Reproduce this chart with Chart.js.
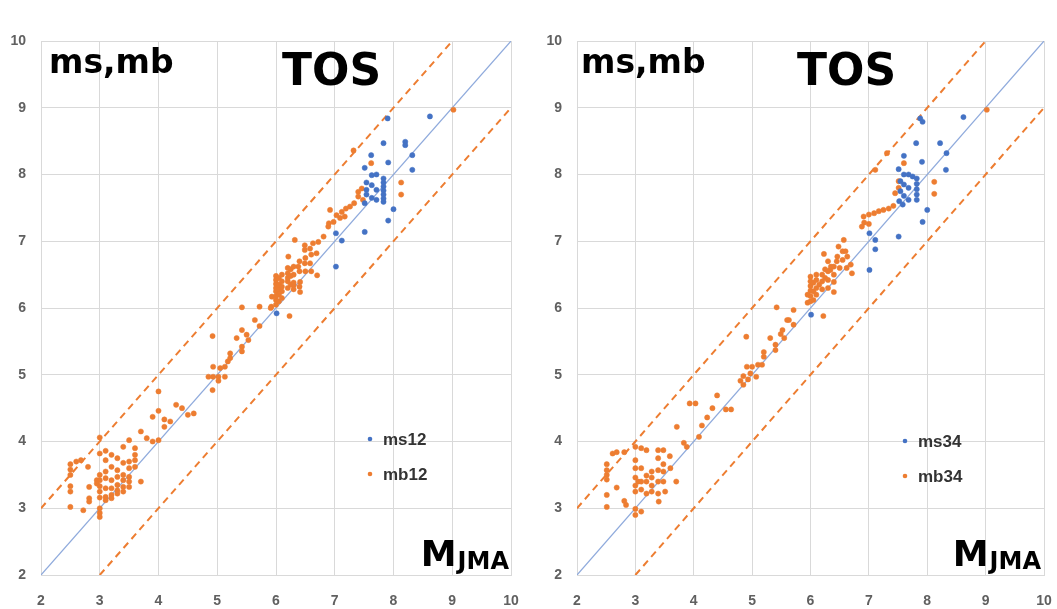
<!DOCTYPE html>
<html>
<head>
<meta charset="utf-8">
<script src="https://cdn.jsdelivr.net/npm/chart.js@4/dist/chart.umd.min.js"></script>
<style>
  html, body { margin: 0; padding: 0; background: #fff; }
  #wrap { position: relative; width: 1057px; height: 609px; overflow: hidden; }
  .panel { position: absolute; top: 0; height: 609px; }
</style>
</head>
<body>
<div id="wrap">
  <div class="panel" style="left:0;width:527px"><canvas id="left" width="527" height="609"></canvas></div>
  <div class="panel" style="left:527px;width:530px"><canvas id="right" width="530" height="609"></canvas></div>
</div>
<script>
// shared axis ticks (both axes 2..10)
const axisTicks = [2, 3, 4, 5, 6, 7, 8, 9, 10];

// reference lines: 1:1 and +/-1 bands
const diagLine = [[2, 2], [10, 10]];
const upperBand = [[2, 3], [9, 10]];
const lowerBand = [[3, 2], [10, 9]];

// left panel: ms12 / mb12 vs MJMA
const ms12 = [
  [8.62, 8.87], [7.9, 8.84], [7.83, 8.47], [8.2, 8.49], [8.2, 8.44], [7.62, 8.29], [8.32, 8.29],
  [7.91, 8.18], [8.32, 8.07], [7.51, 8.1], [7.63, 7.99], [7.71, 8.0], [7.54, 7.88], [7.63, 7.84],
  [7.54, 7.77], [7.71, 7.77], [7.54, 7.7], [7.63, 7.65], [7.71, 7.62], [7.51, 7.57],
  [7.83, 7.94], [7.83, 7.88], [7.83, 7.82], [7.83, 7.76], [7.83, 7.7], [7.83, 7.64], [7.83, 7.59],
  [8.0, 7.48], [7.91, 7.31], [7.51, 7.14], [7.02, 7.12], [7.12, 7.01], [7.02, 6.62], [6.01, 5.92]
];
const mb12 = [
  // around 7-9
  [9.02, 8.97], [7.62, 8.17], [7.32, 8.36], [8.13, 7.88], [8.13, 7.7], [7.4, 7.74], [7.46, 7.79],
  [7.4, 7.67], [7.33, 7.57], [7.26, 7.52], [7.19, 7.49], [7.12, 7.44], [7.03, 7.39], [6.92, 7.47],
  [6.98, 7.29], [6.89, 7.22], [6.9, 7.27], [7.09, 7.35], [7.17, 7.37], [7.48, 7.62],
  // around 6-7
  [6.21, 6.77], [6.32, 7.02], [6.49, 6.94], [6.49, 6.87], [6.58, 6.89], [6.63, 6.97], [6.72, 6.99],
  [6.81, 7.07], [6.69, 6.82], [6.58, 6.67], [6.7, 6.49], [6.6, 6.55], [6.49, 6.67], [6.38, 6.62],
  [6.23, 5.88], [5.93, 6.17], [5.92, 6.02], [6.41, 6.39], [6.41, 6.24], [6.3, 6.34],
  [6.0, 6.05], [6.0, 6.12], [6.0, 6.18], [6.0, 6.25], [6.0, 6.3], [6.0, 6.36], [6.0, 6.42], [6.0, 6.48],
  [6.05, 6.1], [6.05, 6.2], [6.05, 6.28], [6.05, 6.35], [6.05, 6.45],
  [6.1, 6.15], [6.1, 6.25], [6.1, 6.32], [6.1, 6.4], [6.1, 6.5],
  [6.2, 6.3], [6.2, 6.4], [6.2, 6.45], [6.2, 6.52], [6.2, 6.6],
  [6.25, 6.35], [6.25, 6.48], [6.25, 6.58], [6.3, 6.28], [6.3, 6.38], [6.3, 6.5], [6.3, 6.62],
  [6.4, 6.32], [6.4, 6.55], [6.4, 6.7], [6.5, 6.55], [6.5, 6.75], [6.6, 6.8],
  // around 5-6
  [4.92, 5.58], [5.42, 6.01], [5.72, 6.02], [5.91, 6.0], [5.64, 5.82], [5.72, 5.73], [5.42, 5.67],
  [5.33, 5.55], [5.5, 5.6], [5.53, 5.52], [5.42, 5.42], [5.42, 5.35], [5.22, 5.32], [5.22, 5.25],
  [5.13, 5.12], [5.05, 5.1], [4.93, 5.12], [4.85, 4.97], [4.93, 4.97], [5.02, 4.97], [5.13, 4.97],
  [5.02, 4.91], [4.92, 4.77], [5.18, 5.2],
  // around 2.5-4.7
  [2.5, 3.66], [2.5, 3.58], [2.5, 3.5], [2.5, 3.33], [2.5, 3.25], [2.5, 3.02], [2.6, 3.7], [2.68, 3.72],
  [2.72, 2.97], [2.8, 3.62], [2.82, 3.15], [2.82, 3.1], [2.82, 3.32], [2.95, 3.42], [2.95, 3.37],
  [3.0, 4.06], [3.0, 3.82], [3.0, 3.5], [3.0, 3.42], [3.0, 3.33], [3.0, 3.25], [3.0, 3.16], [3.0, 3.0],
  [3.0, 2.87], [3.0, 2.93], [3.1, 3.86], [3.1, 3.72], [3.1, 3.55], [3.1, 3.45], [3.1, 3.3], [3.1, 3.17],
  [3.1, 3.12], [3.2, 3.8], [3.2, 3.62], [3.2, 3.42], [3.2, 3.3], [3.2, 3.2], [3.2, 3.15],
  [3.3, 3.75], [3.3, 3.57], [3.3, 3.47], [3.3, 3.35], [3.3, 3.27], [3.3, 3.22],
  [3.4, 3.92], [3.4, 3.68], [3.4, 3.5], [3.4, 3.42], [3.4, 3.32], [3.4, 3.25],
  [3.5, 4.02], [3.5, 3.7], [3.5, 3.6], [3.5, 3.47], [3.5, 3.4], [3.5, 3.32],
  [3.6, 3.9], [3.6, 3.8], [3.6, 3.72], [3.6, 3.62], [3.7, 3.4],
  [3.7, 4.15], [3.8, 4.05], [3.9, 4.0], [3.9, 4.37], [4.0, 4.75], [4.0, 4.46], [4.0, 4.02],
  [4.1, 4.33], [4.1, 4.22], [4.2, 4.3], [4.3, 4.55], [4.4, 4.5], [4.5, 4.4], [4.6, 4.42]
];

// right panel: ms34 / mb34 vs MJMA
const ms34 = [
  [8.62, 8.86], [7.88, 8.84], [7.92, 8.79], [7.81, 8.47], [8.22, 8.47], [7.6, 8.28], [8.33, 8.32],
  [7.91, 8.19], [8.32, 8.07], [7.51, 8.08], [7.6, 8.0], [7.68, 8.0], [7.75, 7.97], [7.54, 7.9],
  [7.6, 7.85], [7.68, 7.8], [7.54, 7.75], [7.6, 7.68], [7.68, 7.62], [7.52, 7.6], [7.58, 7.55],
  [7.82, 7.94], [7.82, 7.86], [7.82, 7.78], [7.82, 7.7], [7.82, 7.62],
  [8.0, 7.47], [7.92, 7.29], [7.51, 7.07], [7.01, 7.12], [7.11, 7.02], [7.11, 6.88], [7.01, 6.57],
  [6.01, 5.9]
];
const mb34 = [
  // around 7-9
  [9.02, 8.97], [8.12, 7.89], [8.12, 7.71], [7.6, 8.17], [7.31, 8.32], [7.11, 8.07], [7.51, 7.8],
  [7.51, 7.9], [7.45, 7.72], [7.42, 7.53], [7.34, 7.49], [7.25, 7.47], [7.17, 7.45], [7.09, 7.42],
  [7.0, 7.4], [6.91, 7.37], [6.88, 7.22], [6.92, 7.28], [7.0, 7.26],
  // around 6-7
  [6.23, 6.81], [6.48, 6.92], [6.46, 6.77], [6.55, 6.85], [6.63, 6.77], [6.69, 6.65], [6.71, 6.52],
  [6.34, 6.57], [6.4, 6.39], [6.4, 6.24], [6.57, 7.02], [6.22, 5.88], [5.71, 5.97], [5.63, 5.82],
  [6.3, 6.7], [6.62, 6.6],
  [5.95, 6.08], [5.95, 6.2], [6.0, 6.1], [6.0, 6.18], [6.0, 6.26], [6.0, 6.33], [6.0, 6.4], [6.0, 6.47],
  [6.05, 6.12], [6.05, 6.25], [6.05, 6.38], [6.1, 6.2], [6.1, 6.3], [6.1, 6.42], [6.1, 6.5],
  [6.15, 6.35], [6.2, 6.28], [6.2, 6.4], [6.2, 6.5], [6.25, 6.45], [6.25, 6.58],
  [6.3, 6.3], [6.3, 6.42], [6.3, 6.55], [6.35, 6.62], [6.4, 6.5], [6.4, 6.62], [6.45, 6.7],
  [6.5, 6.6], [6.55, 6.72], [6.6, 6.85],
  // around 4.4-6
  [4.4, 4.69], [4.9, 5.57], [4.8, 4.91], [4.85, 4.85], [4.85, 4.98], [4.97, 5.02], [5.07, 4.97],
  [4.93, 4.93], [4.91, 5.12], [5.0, 5.12], [5.1, 5.15], [5.17, 5.15], [5.2, 5.27], [5.2, 5.34],
  [5.31, 5.55], [5.4, 5.37], [5.4, 5.45], [5.42, 6.01], [5.49, 5.61], [5.55, 5.55], [5.52, 5.67],
  [5.6, 5.82], [5.71, 5.75],
  // around 3.7-4.7
  [3.93, 4.57], [4.03, 4.57], [3.71, 4.22], [3.83, 3.98], [3.88, 3.92], [4.09, 4.07], [4.14, 4.24],
  [4.23, 4.36], [4.32, 4.5], [4.55, 4.48], [4.64, 4.48],
  // around 2.5-3.7
  [2.51, 3.66], [2.51, 3.57], [2.51, 3.43], [2.51, 3.2], [2.51, 3.02], [2.51, 3.5], [2.61, 3.82],
  [2.68, 3.84], [2.81, 3.84], [2.68, 3.31], [2.81, 3.11], [2.84, 3.05],
  [3.0, 3.92], [3.0, 3.72], [3.0, 3.6], [3.0, 3.46], [3.0, 3.34], [3.0, 3.25], [3.0, 2.99], [3.0, 2.9],
  [3.05, 3.4], [3.1, 3.9], [3.1, 3.6], [3.1, 3.4], [3.1, 3.28], [3.1, 2.95],
  [3.19, 3.87], [3.19, 3.49], [3.19, 3.4], [3.19, 3.22], [3.28, 3.46], [3.28, 3.34], [3.28, 3.25],
  [3.28, 3.55], [3.39, 3.87], [3.39, 3.75], [3.39, 3.57], [3.39, 3.4], [3.39, 3.22],
  [3.48, 3.87], [3.48, 3.66], [3.48, 3.55], [3.48, 3.4], [3.51, 3.25], [3.59, 3.78], [3.7, 3.4],
  [3.6, 3.6], [3.4, 3.1]
];

const BLUE = "#4472C4";
const ORANGE = "#ED7D31";
const GRID = "#D9D9D9";
const TICK_FONT = { family: "Liberation Sans", size: 14, weight: "bold" };

const toXY = (arr) => arr.map(([x, y]) => ({ x, y }));

// draws the big panel labels and the small legend on the canvas
const panelText = {
  id: "panelText",
  afterDraw(chart, args, o) {
    const ctx = chart.ctx;
    ctx.save();
    ctx.fillStyle = "#000";
    ctx.textBaseline = "alphabetic";
    ctx.textAlign = "left";
    ctx.font = 'bold 33px "DejaVu Sans"';
    ctx.fillText("ms,mb", o.nameX, 73);
    ctx.font = 'bold 44px "DejaVu Sans"';
    ctx.fillText("TOS", o.tosX, 85);

    // M with JMA subscript, right aligned
    ctx.textAlign = "right";
    ctx.font = 'bold 24px "DejaVu Sans"';
    ctx.fillText("JMA", o.mRight, 569);
    const subW = ctx.measureText("JMA").width;
    ctx.font = 'bold 36px "DejaVu Sans"';
    ctx.fillText("M", o.mRight - subW - 1, 566);

    // legend
    const items = [[o.labels[0], BLUE, o.legY], [o.labels[1], ORANGE, o.legY + 35]];
    ctx.textAlign = "left";
    ctx.textBaseline = "middle";
    ctx.font = 'bold 17px "Liberation Sans"';
    items.forEach(([txt, col, y]) => {
      ctx.fillStyle = col;
      ctx.beginPath();
      ctx.arc(o.legX, y, 2.3, 0, Math.PI * 2);
      ctx.fill();
      ctx.fillStyle = "#333";
      ctx.fillText(txt, o.legX + 13, y + 1);
    });
    ctx.restore();
  }
};

const makeScale = (fit, pad) => ({
  type: "linear",
  min: 2,
  max: 10,
  afterBuildTicks: (s) => { s.ticks = axisTicks.map(v => ({ value: v })); },
  afterFit: fit,
  grid: { color: GRID, lineWidth: 1, drawTicks: false },
  border: { display: true, color: GRID },
  ticks: { font: TICK_FONT, color: "#606060", padding: pad }
});

function buildChart(id, ms, mb, opts) {
  return new Chart(document.getElementById(id), {
    type: "scatter",
    data: {
      datasets: [
        { label: opts.labels[0], data: toXY(ms), backgroundColor: BLUE, borderColor: BLUE,
          borderWidth: 0.5, pointRadius: 2.6, order: 1 },
        { label: opts.labels[1], data: toXY(mb), backgroundColor: ORANGE, borderColor: ORANGE,
          borderWidth: 0.5, pointRadius: 2.6, order: 2 },
        { data: toXY(diagLine), showLine: true, borderColor: "#8FAADC", borderWidth: 1.2,
          pointRadius: 0, order: 3 },
        { data: toXY(upperBand), showLine: true, borderColor: ORANGE, borderWidth: 2,
          borderDash: [7, 5], pointRadius: 0, order: 3 },
        { data: toXY(lowerBand), showLine: true, borderColor: ORANGE, borderWidth: 2,
          borderDash: [7, 5], pointRadius: 0, order: 3 }
      ]
    },
    options: {
      responsive: false,
      animation: false,
      layout: { padding: { top: 41, right: opts.padRight, left: 0, bottom: 0 } },
      plugins: { legend: { display: false }, tooltip: { enabled: false }, panelText: opts },
      scales: {
        // x labels sit low; drop the edge padding the label offset would add
        x: makeScale((s) => { s.height = 34; s.paddingLeft = 0; s.paddingRight = 0; }, 18),
        y: makeScale((s) => { s.width = opts.yWidth; }, 15)
      }
    },
    plugins: [panelText]
  });
}

buildChart("left", ms12, mb12, {
  labels: ["ms12", "mb12"], yWidth: 41, padRight: 16,
  nameX: 49, tosX: 282, mRight: 509, legX: 370, legY: 439
});
buildChart("right", ms34, mb34, {
  labels: ["ms34", "mb34"], yWidth: 50, padRight: 13,
  nameX: 54, tosX: 270, mRight: 514, legX: 378, legY: 441
});
</script>
</body>
</html>
